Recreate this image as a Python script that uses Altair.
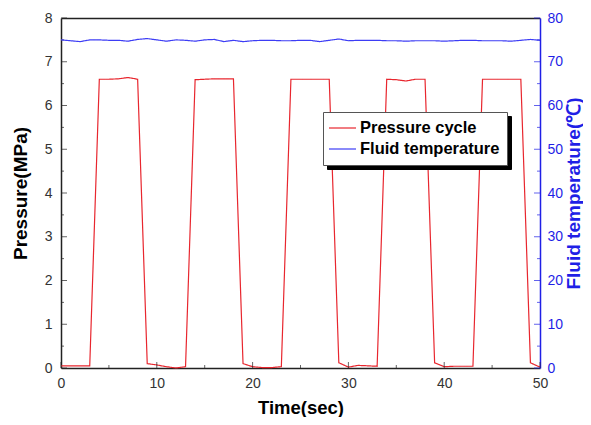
import altair as alt
import pandas as pd

# ---------------- data ----------------
time_s = list(range(51))
pressure_mpa = [0.05, 0.05, 0.05, 0.05, 6.60, 6.60, 6.61, 6.64, 6.60, 0.10,
                0.07, 0.03, 0.00, 0.03, 6.59, 6.60, 6.61, 6.61, 6.61, 0.10,
                0.03, 0.01, 0.01, 0.03, 6.60, 6.60, 6.60, 6.60, 6.60, 0.12,
                0.02, 0.06, 0.05, 0.04, 6.60, 6.59, 6.56, 6.60, 6.60, 0.12,
                0.03, 0.04, 0.04, 0.04, 6.60, 6.60, 6.60, 6.60, 6.60, 0.12, 0.02]
fluid_temp_c = [75.0, 74.8, 74.6, 75.0, 75.0, 74.9, 74.9, 74.7, 75.1, 75.3,
                75.0, 74.7, 75.0, 74.9, 74.7, 75.0, 75.1, 74.6, 74.9, 74.6,
                74.8, 74.9, 74.9, 74.8, 74.8, 74.9, 74.9, 74.6, 74.9, 75.2,
                74.8, 74.9, 74.9, 74.9, 74.8, 74.8, 74.7, 74.8, 74.8, 74.8,
                74.7, 74.8, 74.9, 74.9, 74.8, 74.8, 74.8, 74.7, 74.9, 75.1, 74.9]
series_names = ["Pressure cycle", "Fluid temperature"]

x_major = [0, 10, 20, 30, 40, 50]
x_minor = [5, 15, 25, 35, 45]
y_left_major = [0, 1, 2, 3, 4, 5, 6, 7, 8]
y_left_minor = [0.5, 1.5, 2.5, 3.5, 4.5, 5.5, 6.5, 7.5]
y_right_major = [0, 10, 20, 30, 40, 50, 60, 70, 80]
y_right_minor = [5, 15, 25, 35, 45, 55, 65, 75]

X_DOMAIN = [0, 50]
P_DOMAIN = [0, 8]
T_DOMAIN = [0, 80]

df = pd.concat([
    pd.DataFrame({"t": time_s, "value": pressure_mpa, "series": series_names[0]}),
    pd.DataFrame({"t": time_s, "value": fluid_temp_c, "series": series_names[1]}),
], ignore_index=True)
df["shadow"] = df["series"]

# ---------------- style ----------------
FONT = "Liberation Sans"
RED = "#e8262e"
BLUE = "#3d3df5"
AXBLUE = "#1f1fe6"
DARK = "#222222"
LINE_SYMBOL = "M-1.25,0H2.125"

xs = alt.Scale(domain=X_DOMAIN, nice=False, zero=False)
ys_p = alt.Scale(domain=P_DOMAIN, nice=False)
ys_t = alt.Scale(domain=T_DOMAIN, nice=False)

color_scale = alt.Scale(domain=series_names, range=[RED, BLUE])
legend_common = dict(
    orient="none", title=None, padding=7, rowPadding=3,
    symbolType=LINE_SYMBOL, symbolSize=256, symbolStrokeWidth=1.2,
    labelFont=FONT, labelFontSize=16.5, labelFontWeight="bold",
    labelColor="black", labelOffset=12,
)
main_legend = alt.Legend(legendX=262, legendY=94, fillColor="white",
                         strokeColor="#555555", zindex=2, **legend_common)
# drop-shadow box behind the legend (its labels only size the box)
shadow_legend = alt.Legend(legendX=266, legendY=98, fillColor="black",
                           strokeColor="black", symbolOpacity=0, labelOpacity=0,
                           zindex=1, **legend_common)
# reversed domain keeps the shadow legend separate from the colour legend
dash_scale = alt.Scale(domain=series_names[::-1], range=[[1, 0], [1, 0]])

x_bottom = alt.Axis(
    orient="bottom", values=x_major, ticks=False, grid=False,
    labelOverlap=False, labelFlush=False,
    title="Time(sec)", labelPadding=8, titlePadding=8,
    domainColor=DARK, domainWidth=1.5,
    labelFont=FONT, labelFontSize=14, labelColor="#333333",
    titleFont=FONT, titleFontSize=18.5, titleFontWeight="bold", titleColor="black")

y_left = alt.Axis(
    orient="left", values=y_left_major, ticks=False, grid=False,
    labelOverlap=False, labelFlush=False,
    title="Pressure(MPa)", labelPadding=9, titlePadding=14,
    domainColor=DARK, domainWidth=1.5,
    labelFont=FONT, labelFontSize=14, labelColor="#333333",
    titleFont=FONT, titleFontSize=19, titleFontWeight="bold", titleColor="black")

x_top = alt.Axis(orient="top", ticks=False, labels=False, grid=False, title=None,
                 domainColor=DARK, domainWidth=1.5)

y_right = alt.Axis(
    orient="right", values=y_right_major, ticks=False, grid=False,
    labelOverlap=False, labelFlush=False,
    title="Fluid temperature(℃)", titleAngle=270, titleBaseline="top",
    labelPadding=7, titlePadding=2,
    domainColor=AXBLUE, domainWidth=1.5,
    labelFont=FONT, labelFontSize=14, labelColor=AXBLUE,
    titleFont=FONT, titleFontSize=19, titleFontWeight="bold", titleColor=AXBLUE)

base = alt.Chart(df)

pressure = base.transform_filter(alt.datum.series == series_names[0]).mark_line(
    strokeWidth=1.2
).encode(
    x=alt.X("t:Q", scale=xs, axis=x_bottom),
    y=alt.Y("value:Q", scale=ys_p, axis=y_left),
    color=alt.Color("series:N", scale=color_scale, legend=main_legend),
    strokeDash=alt.StrokeDash("shadow:N", scale=dash_scale, legend=shadow_legend),
)

temperature = base.transform_filter(alt.datum.series == series_names[1]).mark_line(
    strokeWidth=1.2
).encode(
    x=alt.X("t:Q", scale=xs, axis=x_top),
    y=alt.Y("value:Q", scale=ys_t, axis=y_right),
    color=alt.Color("series:N", scale=color_scale, legend=main_legend),
    strokeDash=alt.StrokeDash("shadow:N", scale=dash_scale, legend=shadow_legend),
)


# inward axis ticks, drawn from the tick-value lists through the same scales
# (they reuse the same axis definitions so the shared axes merge cleanly)
def x_ticks_layer(values, size, xaxis, yaxis):
    tdf = pd.DataFrame({"t": values, "value": [P_DOMAIN[0]] * len(values)})
    return alt.Chart(tdf).mark_tick(
        orient="vertical", size=size, thickness=1, yOffset=-size / 2, color=DARK
    ).encode(
        x=alt.X("t:Q", scale=xs, axis=xaxis),
        y=alt.Y("value:Q", scale=ys_p, axis=yaxis),
    )


def y_ticks_layer(values, size, at, yscale, color, sign, xaxis, yaxis):
    tdf = pd.DataFrame({"t": [at] * len(values), "value": values})
    return alt.Chart(tdf).mark_tick(
        orient="horizontal", size=size, thickness=1, xOffset=sign * size / 2, color=color
    ).encode(
        x=alt.X("t:Q", scale=xs, axis=xaxis),
        y=alt.Y("value:Q", scale=yscale, axis=yaxis),
    )


pressure_group = alt.layer(
    pressure,
    x_ticks_layer(x_major, 6, x_bottom, y_left),
    x_ticks_layer(x_minor, 3, x_bottom, y_left),
    y_ticks_layer(y_left_major, 6, X_DOMAIN[0], ys_p, DARK, 1, x_bottom, y_left),
    y_ticks_layer(y_left_minor, 3, X_DOMAIN[0], ys_p, DARK, 1, x_bottom, y_left),
)
temperature_group = alt.layer(
    temperature,
    y_ticks_layer(y_right_major, 6, X_DOMAIN[1], ys_t, AXBLUE, -1, x_top, y_right),
    y_ticks_layer(y_right_minor, 3, X_DOMAIN[1], ys_t, AXBLUE, -1, x_top, y_right),
)

chart = alt.layer(pressure_group, temperature_group).resolve_scale(
    y="independent"
).properties(
    width=479, height=350,
    autosize=alt.AutoSizeParams(type="none"),
    padding={"left": 53, "top": 10, "right": 43, "bottom": 49},
    background="white",
).configure_view(stroke=None)

chart.save("out.html", embed_options={"renderer": "svg", "actions": False})
